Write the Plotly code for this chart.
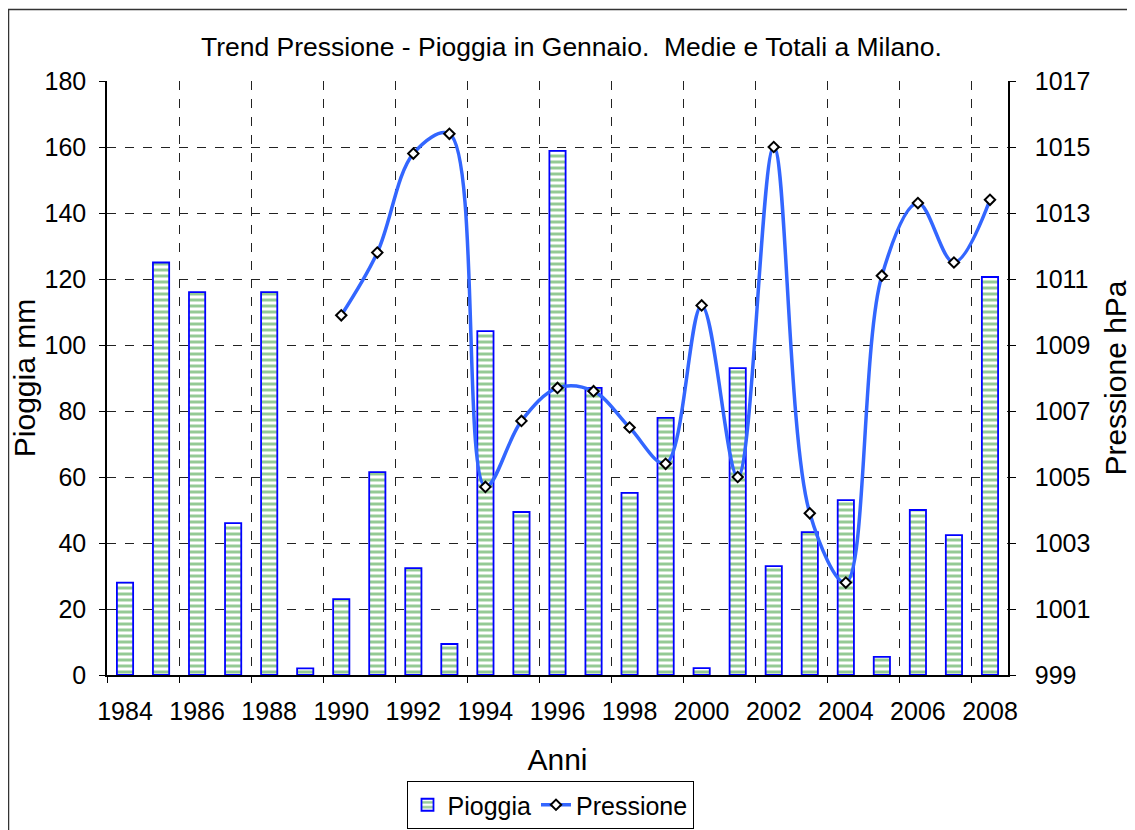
import plotly.graph_objects as go

years = list(range(1984, 2009))
pioggia = [28, 125, 116, 46, 116, 2, 23, 61.5, 32.4, 9.4, 104.2, 49.4, 158.8, 87, 55.2,
           77.9, 2.1, 93, 33, 43.3, 53, 5.5, 50, 42.4, 120.6]
press_years = list(range(1990, 2009))
pressione = [1009.9, 1011.8, 1014.8, 1015.4, 1004.7, 1006.7, 1007.7, 1007.6, 1006.5,
             1005.4, 1010.2, 1005.0, 1015.0, 1003.9, 1001.8, 1011.1, 1013.3, 1011.5, 1013.4]
xtick_labels = [str(y) for y in range(1984, 2009, 2)]

OFF = 8  # default page body margin
W, H = 1135 - OFF, 830 - OFF
L, R, T, B = 107 - OFF, 1008 - OFF, 81 - OFF, 675 - OFF

fig = go.Figure()
fig.add_trace(go.Bar(
    x=years, y=pioggia, name="Pioggia", width=0.45,
    marker=dict(color="white", line=dict(color="#0000FF", width=1.8),
                pattern=dict(shape="-", fgcolor="#2A962A", bgcolor="white", size=6, solidity=0.5)),
))
fig.add_trace(go.Scatter(
    x=press_years, y=pressione, name="Pressione", yaxis="y2", mode="lines+markers",
    line=dict(color="#3366FF", width=3.5, shape="spline", smoothing=1.0),
    marker=dict(symbol="diamond", size=8, color="white", line=dict(color="black", width=2)),
))

font = "Liberation Sans, Arial, sans-serif"
FS = 25
fig.update_layout(
    width=W, height=H,
    margin=dict(l=L, r=W - R, t=T, b=H - B, autoexpand=False),
    paper_bgcolor="white", plot_bgcolor="white",
    font=dict(family=font, size=FS, color="black"),
    title=dict(text="Trend Pressione - Pioggia in Gennaio.&nbsp; Medie e Totali a Milano.",
               x=0.5, xanchor="center", y=1 - (47 - OFF) / H, yanchor="middle",
               font=dict(size=26.5, family=font)),
    showlegend=True,
    legend=dict(orientation="h", x=(550 - OFF - L) / (R - L), xanchor="center",
                y=(B - (781 - OFF)) / (B - T), yanchor="top",
                bordercolor="black", borderwidth=1, bgcolor="white",
                font=dict(size=FS), tracegroupgap=0),
    xaxis=dict(range=[1983.5, 2008.5], tickvals=[int(t) for t in xtick_labels],
               ticktext=xtick_labels, ticks="", showgrid=False, automargin=False,
               showline=True, linecolor="black", linewidth=1.5,
               title=dict(text="Anni", standoff=25), ticklabelstandoff=13,
               minor=dict(tick0=1983.5, dtick=2, ticks="outside", ticklen=6,
                          tickcolor="black", showgrid=True, gridcolor="#222222",
                          griddash="dash", gridwidth=1),
               zeroline=False),
    yaxis=dict(range=[0, 180], dtick=20, ticks="outside", ticklen=6, tickcolor="black",
               showline=True, linecolor="black", linewidth=1.5, automargin=False,
               showgrid=True, gridcolor="#222222", griddash="dash", gridwidth=1,
               title=dict(text="Pioggia mm", standoff=2), ticklabelstandoff=8,
               zeroline=False),
    yaxis2=dict(range=[999, 1017], tick0=999, dtick=2, overlaying="y", side="right",
                ticks="outside", ticklen=6, tickcolor="black", automargin=False,
                showline=True, linecolor="black", linewidth=1.5, showgrid=False,
                title=dict(text="Pressione hPa", standoff=16), ticklabelstandoff=14,
                zeroline=False),
    shapes=[dict(type="rect", xref="paper", yref="paper",
                 x0=(0.5 - L) / (R - L), x1=(W + 10 - L) / (R - L),
                 y0=(B - (H + 10)) / (B - T), y1=(B - 1.5) / (B - T),
                 line=dict(color="#333333", width=1.5), fillcolor="rgba(0,0,0,0)",
                 layer="below")],
)
fig.write_html("out.html")
